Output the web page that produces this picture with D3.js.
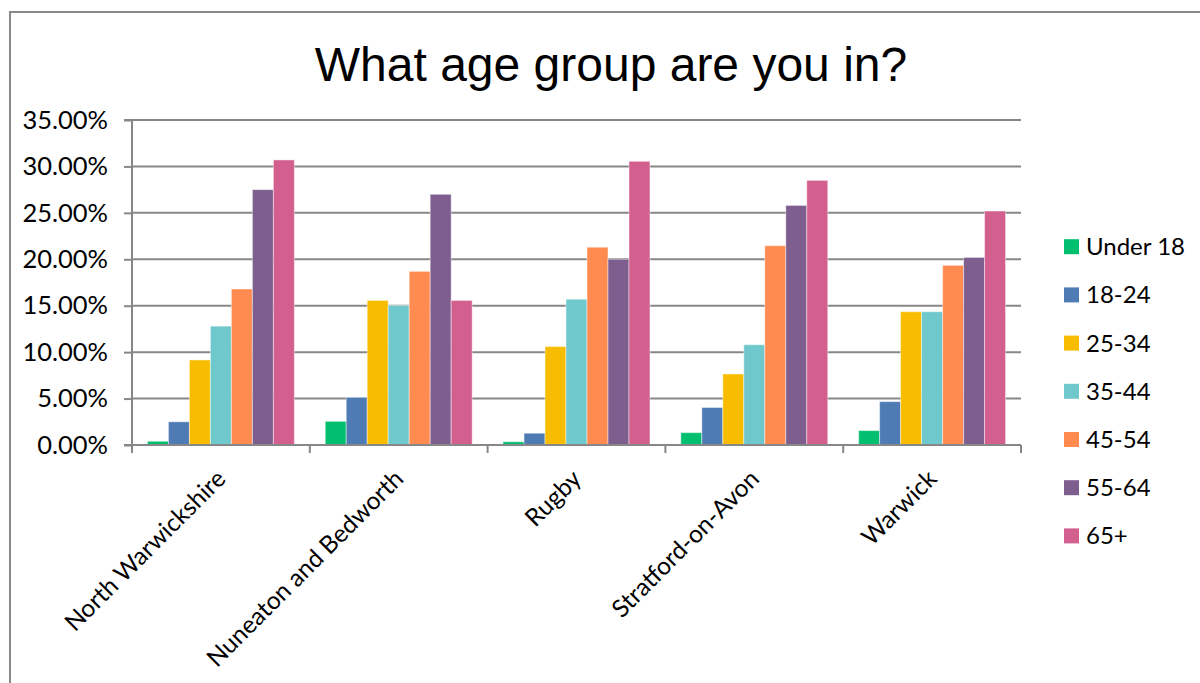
<!DOCTYPE html>
<html>
<head>
<meta charset="utf-8">
<script src="https://cdn.jsdelivr.net/npm/d3@7"></script>
<style>
  html, body { margin: 0; padding: 0; background: #fff; }
  svg { display: block; }
</style>
</head>
<body>
<svg id="chart" width="1200" height="683"></svg>
<script>
const titleText = "What age group are you in?";
const categories = ["North Warwickshire", "Nuneaton and Bedworth", "Rugby", "Stratford-on-Avon", "Warwick"];
const seriesNames = ["Under 18", "18-24", "25-34", "35-44", "45-54", "55-64", "65+"];
const seriesColors = ["#00BF6F", "#4F7BB5", "#F8BD00", "#6EC8CC", "#FF8B50", "#7E5E8F", "#D35F8E"];
// values in fraction (0.307 = 30.7%), one array per series, ordered by category
const under18 = [0.004, 0.0255, 0.0035, 0.0133, 0.0155];
const age18_24 = [0.025, 0.0513, 0.0127, 0.0404, 0.0467];
const age25_34 = [0.0916, 0.1557, 0.106, 0.0765, 0.1435];
const age35_44 = [0.128, 0.1503, 0.157, 0.108, 0.1435];
const age45_54 = [0.168, 0.187, 0.213, 0.2146, 0.1935];
const age55_64 = [0.275, 0.270, 0.200, 0.258, 0.202];
const age65plus = [0.307, 0.1557, 0.3055, 0.285, 0.252];
const seriesValues = [under18, age18_24, age25_34, age35_44, age45_54, age55_64, age65plus];
const yTicks = [0, 0.05, 0.10, 0.15, 0.20, 0.25, 0.30, 0.35];

const svg = d3.select("#chart");
const axisColor = "#878787";
const labelFont = "Lato, 'Open Sans', sans-serif";

// outer chart frame (extends past the right and bottom edges)
svg.append("path")
  .attr("d", "M10,700 L10,12 L1220,12")
  .attr("fill", "none").attr("stroke", "#8a8a8a").attr("stroke-width", 2);

// title
svg.append("text")
  .attr("x", 611).attr("y", 81)
  .attr("text-anchor", "middle")
  .attr("font-family", "'Liberation Sans', Arial, sans-serif")
  .attr("font-size", 48)
  .attr("fill", "#000")
  .text(titleText);

const plot = { left: 132, right: 1021, top: 120, bottom: 445 };

const y = d3.scaleLinear().domain([0, 0.35]).range([plot.bottom, plot.top]);
const x0 = d3.scaleBand().domain(categories).range([plot.left, plot.right]).paddingInner(0).paddingOuter(0);
const x1 = d3.scaleBand().domain(seriesNames).range([0, x0.bandwidth()]).paddingInner(0).paddingOuter(0.735);

// gridlines
svg.append("g").selectAll("line").data(yTicks.filter(d => d > 0)).join("line")
  .attr("x1", plot.left).attr("x2", plot.right)
  .attr("y1", d => y(d)).attr("y2", d => y(d))
  .attr("stroke", axisColor).attr("stroke-width", 2);

// y axis
const yAxis = d3.axisLeft(y).tickValues(yTicks).tickFormat(d3.format(".2%")).tickSize(8).tickPadding(16);
const gy = svg.append("g").attr("transform", `translate(${plot.left},0)`).call(yAxis);
gy.select(".domain").attr("stroke", axisColor).attr("stroke-width", 2).attr("d", `M-8,${plot.top}H0V${plot.bottom}H-8`);
gy.selectAll(".tick line").attr("stroke", axisColor).attr("stroke-width", 2);
gy.selectAll(".tick text")
  .attr("font-family", labelFont).attr("font-size", 25.5).attr("fill", "#000");

// bars
const groups = svg.append("g").selectAll("g").data(categories).join("g")
  .attr("transform", d => `translate(${x0(d)},0)`);
groups.selectAll("rect")
  .data((c, ci) => seriesNames.map((s, si) => ({ s, si, v: seriesValues[si][ci] })))
  .join("rect")
  .attr("x", d => x1(d.s))
  .attr("width", x1.bandwidth())
  .attr("y", d => y(d.v))
  .attr("height", d => y(0) - y(d.v))
  .attr("fill", d => seriesColors[d.si])
  .attr("stroke", "rgba(255,255,255,0.45)")
  .attr("stroke-width", 1);

// x axis baseline and ticks
const xg = svg.append("g");
xg.append("line")
  .attr("x1", plot.left).attr("x2", plot.right)
  .attr("y1", y(0)).attr("y2", y(0))
  .attr("stroke", axisColor).attr("stroke-width", 2);
const boundaries = categories.map(c => x0(c)).concat([x0(categories[categories.length - 1]) + x0.bandwidth()]);
xg.selectAll("line.tick").data(boundaries).join("line")
  .attr("class", "tick")
  .attr("x1", d => d).attr("x2", d => d)
  .attr("y1", y(0)).attr("y2", y(0) + 8)
  .attr("stroke", axisColor).attr("stroke-width", 2);

// rotated category labels
xg.selectAll("text").data(categories).join("text")
  .attr("transform", d => `translate(${x0(d) + x0.bandwidth() / 2 - 6},${y(0) + 23}) rotate(-45)`)
  .attr("text-anchor", "end")
  .attr("dy", "0.71em")
  .attr("font-family", labelFont).attr("font-size", 24.5).attr("fill", "#000")
  .text(d => d);

// legend
const legend = svg.append("g").selectAll("g").data(seriesNames).join("g")
  .attr("transform", (d, i) => `translate(1064,${246.7 + i * 48.2})`);
legend.append("rect")
  .attr("x", 0).attr("y", -7.5).attr("width", 15).attr("height", 15)
  .attr("fill", (d, i) => seriesColors[i]);
legend.append("text")
  .attr("x", 22).attr("y", 0).attr("dy", "0.35em")
  .attr("font-family", labelFont).attr("font-size", 24).attr("fill", "#000")
  .text(d => d);
</script>
</body>
</html>
